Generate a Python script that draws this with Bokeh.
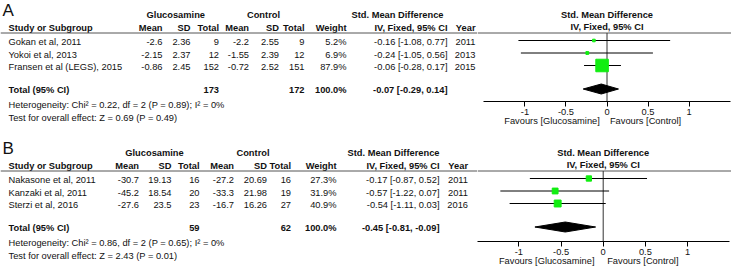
from bokeh.plotting import figure
from bokeh.layouts import row, column
from bokeh.models import Range1d, LinearAxis, FixedTicker, CustomJSTickFormatter
from bokeh.embed import file_html
from bokeh.resources import INLINE
from bokeh.core.properties import value

# ---------------- data ----------------
group_exp = "Glucosamine"
group_ctl = "Control"
fav_left = "Favours [Glucosamine]"
fav_right = "Favours [Control]"
axis_ticks = [-1, -0.5, 0, 0.5, 1]

# Panel A
a_study = ["Gokan et al, 2011", "Yokoi et al, 2013", "Fransen et al (LEGS), 2015"]
a_g_mean = [-2.6, -2.15, -0.86]
a_g_sd = [2.36, 2.37, 2.45]
a_g_n = [9, 12, 152]
a_c_mean = [-2.2, -1.55, -0.72]
a_c_sd = [2.55, 2.39, 2.52]
a_c_n = [9, 12, 151]
a_weight = [5.2, 6.9, 87.9]
a_smd = [-0.16, -0.24, -0.06]
a_lo = [-1.08, -1.05, -0.28]
a_hi = [0.77, 0.56, 0.17]
a_year = [2011, 2013, 2015]
a_total = [-0.07, -0.29, 0.14]
a_total_n = [173, 172]
a_total_w = 100.0
a_het = "Heterogeneity: Chi² = 0.22, df = 2 (P = 0.89); I² = 0%"
a_test = "Test for overall effect: Z = 0.69 (P = 0.49)"

# Panel B
b_study = ["Nakasone et al, 2011", "Kanzaki et al, 2011", "Sterzi et al, 2016"]
b_g_mean = [-30.7, -45.2, -27.6]
b_g_sd = [19.13, 18.54, 23.5]
b_g_n = [16, 20, 23]
b_c_mean = [-27.2, -33.3, -16.7]
b_c_sd = [20.69, 21.98, 16.26]
b_c_n = [16, 19, 27]
b_weight = [27.3, 31.9, 40.9]
b_smd = [-0.17, -0.57, -0.54]
b_lo = [-0.87, -1.22, -1.11]
b_hi = [0.52, 0.07, 0.03]
b_year = [2011, 2011, 2016]
b_total = [-0.45, -0.81, -0.09]
b_total_n = [59, 62]
b_total_w = 100.0
b_het = "Heterogeneity: Chi² = 0.86, df = 2 (P = 0.65); I² = 0%"
b_test = "Test for overall effect: Z = 2.43 (P = 0.01)"

# ---------------- style ----------------
FONT = "Liberation Sans"
FS = "9.3px"
INK = "#111111"
GREEN = "#11ee11"
RULE = "#555555"
W_LEFT = 477
W_RIGHT = 254
H_ALL = 268


def col(p, x, ys, texts, align="left", bold=False, size=FS):
    p.text(x=[x] * len(texts), y=ys, text=[str(t) for t in texts],
           text_align=align, text_baseline="middle",
           text_font=value(FONT), text_font_size=size,
           text_font_style="bold" if bold else "normal", text_color=INK)


def ci_str(e, l, h):
    return f"{e:.2f} [{l:.2f}, {h:.2f}]"


left = figure(width=W_LEFT, height=H_ALL, x_range=Range1d(0, W_LEFT), y_range=Range1d(H_ALL, 0),
              x_axis_type=None, y_axis_type=None, toolbar_location=None,
              output_backend="svg", min_border=0, outline_line_color=None)


def table(p, letter, top, xs, study, gm, gsd, gn, cm, csd, cn, w, smd, lo, hi, yr,
          tot, tot_n, tot_w, het, test, hdr_x):
    y_h1 = top
    y_h2 = top + 12.5
    y_line = top + 18
    rows = [top + 27 + 12.5 * i for i in range(len(study))]
    y_tot = top + 74.5
    y_het = top + 90
    y_test = top + 102.5
    col(p, 2, [top - 5], [letter], size="17px")
    col(p, hdr_x[0], [y_h1], [group_exp], "center", True)
    col(p, hdr_x[1], [y_h1], [group_ctl], "center", True)
    col(p, hdr_x[2], [y_h1], ["Std. Mean Difference"], "center", True)
    heads = ["Mean", "SD", "Total", "Mean", "SD", "Total", "Weight", "IV, Fixed, 95% CI", "Year"]
    col(p, 8, [y_h2], ["Study or Subgroup"], "left", True)
    for hx, h in zip(xs, heads):
        col(p, hx, [y_h2], [h], "right", True)
    p.segment(x0=[0], x1=[W_LEFT], y0=[y_line], y1=[y_line], line_color=RULE, line_width=1)
    col(p, 8, rows, study)
    col(p, xs[0], rows, gm, "right")
    col(p, xs[1], rows, gsd, "right")
    col(p, xs[2], rows, gn, "right")
    col(p, xs[3], rows, cm, "right")
    col(p, xs[4], rows, csd, "right")
    col(p, xs[5], rows, cn, "right")
    col(p, xs[6], rows, [f"{v:.1f}%" for v in w], "right")
    col(p, xs[7], rows, [ci_str(e, l, h) for e, l, h in zip(smd, lo, hi)], "right")
    col(p, xs[8], rows, yr, "right")
    col(p, 8, [y_tot], ["Total (95% CI)"], "left", True)
    col(p, xs[2], [y_tot], [tot_n[0]], "right", True)
    col(p, xs[5], [y_tot], [tot_n[1]], "right", True)
    col(p, xs[6], [y_tot], [f"{tot_w:.1f}%"], "right", True)
    col(p, xs[7], [y_tot], [ci_str(*tot)], "right", True)
    col(p, 8, [y_het], [het])
    col(p, 8, [y_test], [test])
    return rows, y_line, y_tot


A_TOP = 14.5
B_TOP = 152.5
a_xs = [162, 190, 218.5, 248.5, 278.5, 304, 346, 447, 475]
b_xs = [138.5, 171, 199, 233.5, 266.5, 290.5, 336, 439, 467.5]
a_rows, a_line, a_ytot = table(left, "A", A_TOP, a_xs, a_study, a_g_mean, a_g_sd, a_g_n,
                               a_c_mean, a_c_sd, a_c_n, a_weight, a_smd, a_lo, a_hi, a_year,
                               a_total, a_total_n, a_total_w, a_het, a_test, [175.3, 263, 397])
b_rows, b_line, b_ytot = table(left, "B", B_TOP, b_xs, b_study, b_g_mean, b_g_sd, b_g_n,
                               b_c_mean, b_c_sd, b_c_n, b_weight, b_smd, b_lo, b_hi, b_year,
                               b_total, b_total_n, b_total_w, b_het, b_test, [154, 252.5, 393])


def forest(height, frame_top, frame_bottom, x_start, x_end, border_bottom, hdr_top,
           rows, y_line, y_tot, smd, lo, hi, w, tot):
    p = figure(width=W_RIGHT, height=height, x_range=Range1d(x_start, x_end),
               y_range=Range1d(frame_bottom, frame_top),
               x_axis_type=None, y_axis_type=None, toolbar_location=None,
               output_backend="svg", min_border=0, min_border_bottom=border_bottom,
               outline_line_color=None)
    col(p, 0, [hdr_top], ["Std. Mean Difference"], "center", True)
    col(p, 0, [hdr_top + 12], ["IV, Fixed, 95% CI"], "center", True)
    p.segment(x0=[x_start], x1=[x_end], y0=[y_line], y1=[y_line], line_color=RULE, line_width=1)
    p.segment(x0=[0], x1=[0], y0=[y_line], y1=[frame_bottom], line_color="#333333", line_width=1)
    ys = [r - 1.5 for r in rows]
    p.segment(x0=lo, x1=hi, y0=ys, y1=ys, line_color="black", line_width=1)
    sizes = [2 + 0.12 * v for v in w]
    p.scatter(x=smd, y=ys, size=sizes, marker="square", fill_color=GREEN, line_color=GREEN)
    e, l, h = tot
    yc = y_tot - 0.5
    p.patch(x=[l, e, h, e], y=[yc, yc - 5, yc, yc + 5], fill_color="black", line_color="black")
    ax = LinearAxis(ticker=FixedTicker(ticks=axis_ticks),
                    formatter=CustomJSTickFormatter(code="return tick.toString()"),
                    bounds=(-1.5, 1.5), major_tick_out=5, major_tick_in=0,
                    minor_tick_line_color=None, major_label_standoff=2,
                    major_label_text_font=FONT, major_label_text_font_size=FS,
                    major_label_text_color=INK, axis_line_color="black",
                    major_tick_line_color="black")
    p.add_layout(ax, "below")
    fav = LinearAxis(ticker=FixedTicker(ticks=[-0.67, 0.47]),
                     formatter=CustomJSTickFormatter(
                         code=f'return tick < 0 ? "{fav_left}" : "{fav_right}"'),
                     axis_line_color=None, major_tick_line_color=None,
                     minor_tick_line_color=None, major_tick_out=0, major_tick_in=0,
                     major_label_standoff=-2,
                     major_label_text_font=FONT, major_label_text_font_size=FS,
                     major_label_text_color=INK)
    p.add_layout(fav, "below")
    return p


# panel A forest: frame covers y 0..101; panel B forest: y 144..241
fa = forest(144, 0, 101, -1.579, 1.518, 43, A_TOP, a_rows, a_line, a_ytot,
            a_smd, a_lo, a_hi, a_weight, a_total)
fb = forest(124, 144, 241, -1.491, 1.522, 27, B_TOP, b_rows, b_line, b_ytot,
            b_smd, b_lo, b_hi, b_weight, b_total)

layout = row(left, column(fa, fb, spacing=0), spacing=0)
open("out.html", "w").write(file_html(layout, INLINE))
